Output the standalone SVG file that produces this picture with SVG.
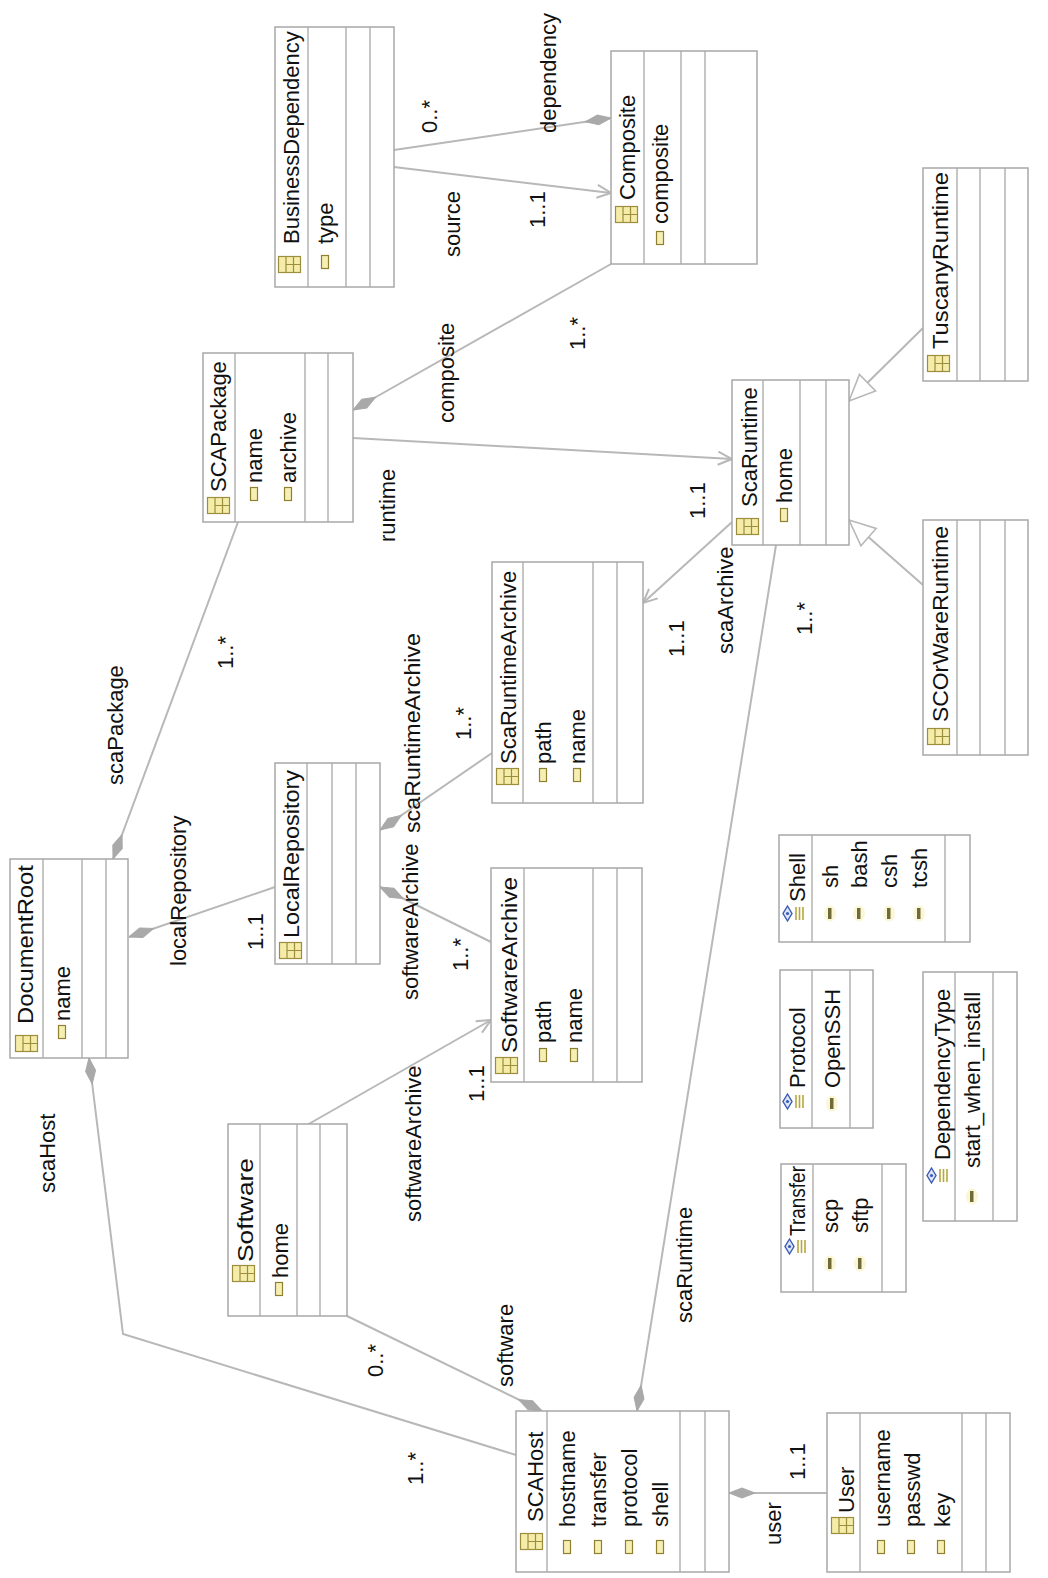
<svg xmlns="http://www.w3.org/2000/svg" xmlns:xlink="http://www.w3.org/1999/xlink" width="1048" height="1578" viewBox="0 0 1048 1578">
<style>
.box{fill:#fff;stroke:#a8a8a8;stroke-width:1.5}
.dv{fill:none;stroke:#a8a8a8;stroke-width:1.3}
.t{font-family:"Liberation Sans",Arial,sans-serif;font-size:22px;fill:#111}
.c{fill:none;stroke:#b8b8b8;stroke-width:2}
</style>
<defs>
<g id="ci"><rect x="0.5" y="0.5" width="22" height="16" fill="#f4eca8" stroke="#9c8e3c" stroke-width="1.2"/><path d="M8,0.5V16.5M15.5,0.5V16.5M8,8.5H22.5" stroke="#9c8e3c" stroke-width="1.2" fill="none"/></g>
<g id="ai"><rect x="0.5" y="0.5" width="7" height="13" fill="#f6efb4" stroke="#8f8030" stroke-width="1.2"/></g>
<g id="ei"><path d="M4.5,1L9,8.5L4.5,16L0,8.5Z" fill="#dde4f6" stroke="#3a5bb5" stroke-width="1.4"/><circle cx="4.5" cy="8.5" r="1.6" fill="#3a5bb5"/><path d="M13,2V15M16.5,2V15M20,2V15" stroke="#b8a83c" stroke-width="1.6"/></g>
<g id="li"><ellipse cx="2" cy="6.5" rx="6" ry="8" fill="#faf6d6"/><rect x="0" y="1" width="3.5" height="11" fill="#6e6a3a"/></g>
<marker id="dia" markerUnits="userSpaceOnUse" markerWidth="30" markerHeight="14" refX="0" refY="7" orient="auto" viewBox="0 0 30 14"><path d="M0,7L13,2L26,7L13,12Z" fill="#a9a9a9" stroke="#a9a9a9" stroke-width="1"/></marker>
<marker id="arr" markerUnits="userSpaceOnUse" markerWidth="20" markerHeight="16" refX="17" refY="8" orient="auto" viewBox="0 0 20 16"><path d="M3,1.5L17,8L3,14.5" fill="none" stroke="#b8b8b8" stroke-width="2"/></marker>
<marker id="tri" markerUnits="userSpaceOnUse" markerWidth="30" markerHeight="28" refX="28" refY="14" orient="auto" viewBox="0 0 30 28"><path d="M28,14L2,2.5L2,25.5Z" fill="#fff" stroke="#b8b8b8" stroke-width="1.6"/></marker>
</defs>
<rect width="1048" height="1578" fill="#fff"/>

<g id="connectors">
<line class="c" x1="611" y1="118" x2="394" y2="150" marker-start="url(#dia)"/>
<line class="c" x1="394" y1="167" x2="611" y2="193" marker-end="url(#arr)"/>
<line class="c" x1="353" y1="410" x2="611" y2="264" marker-start="url(#dia)"/>
<line class="c" x1="353" y1="438" x2="732" y2="459" marker-end="url(#arr)"/>
<line class="c" x1="732" y1="522" x2="643" y2="603" marker-end="url(#arr)"/>
<line class="c" x1="113" y1="859" x2="238" y2="522" marker-start="url(#dia)"/>
<line class="c" x1="129" y1="937" x2="275" y2="887" marker-start="url(#dia)"/>
<line class="c" x1="380" y1="830" x2="492" y2="753" marker-start="url(#dia)"/>
<line class="c" x1="380" y1="887" x2="491" y2="942" marker-start="url(#dia)"/>
<line class="c" x1="307" y1="1125" x2="491" y2="1020" marker-end="url(#arr)"/>
<line class="c" x1="542" y1="1411" x2="347" y2="1316" marker-start="url(#dia)"/>
<polyline class="c" points="89,1058 123,1334 516,1455" marker-start="url(#dia)"/>
<line class="c" x1="637" y1="1411" x2="776" y2="545" marker-start="url(#dia)"/>
<line class="c" x1="729" y1="1493" x2="827" y2="1493" marker-start="url(#dia)"/>
<line class="c" x1="923" y1="328" x2="849" y2="401" marker-end="url(#tri)"/>
<line class="c" x1="923" y1="585" x2="849" y2="520" marker-end="url(#tri)"/>
<text class="t" transform="translate(437,133) rotate(-90)">0..*</text>
<text class="t" transform="translate(556,133) rotate(-90)">dependency</text>
<text class="t" transform="translate(460,257) rotate(-90)">source</text>
<text class="t" transform="translate(545,228) rotate(-90)">1..1</text>
<text class="t" transform="translate(454,423) rotate(-90)">composite</text>
<text class="t" transform="translate(585,350) rotate(-90)">1..*</text>
<text class="t" transform="translate(395,542) rotate(-90)">runtime</text>
<text class="t" transform="translate(705,519) rotate(-90)">1..1</text>
<text class="t" transform="translate(733,654) rotate(-90)">scaArchive</text>
<text class="t" transform="translate(684,657) rotate(-90)">1..1</text>
<text class="t" transform="translate(812,635) rotate(-90)">1..*</text>
<text class="t" transform="translate(123,785) rotate(-90)">scaPackage</text>
<text class="t" transform="translate(233,669) rotate(-90)">1..*</text>
<text class="t" transform="translate(186,966) rotate(-90)">localRepository</text>
<text class="t" transform="translate(263,950) rotate(-90)">1..1</text>
<text class="t" transform="translate(420,833) rotate(-90)" textLength="200" lengthAdjust="spacingAndGlyphs">scaRuntimeArchive</text>
<text class="t" transform="translate(471,740) rotate(-90)">1..*</text>
<text class="t" transform="translate(418,1000) rotate(-90)">softwareArchive</text>
<text class="t" transform="translate(468,971) rotate(-90)">1..*</text>
<text class="t" transform="translate(421,1222) rotate(-90)">softwareArchive</text>
<text class="t" transform="translate(484,1102) rotate(-90)">1..1</text>
<text class="t" transform="translate(513,1387) rotate(-90)">software</text>
<text class="t" transform="translate(383,1377) rotate(-90)">0..*</text>
<text class="t" transform="translate(55,1193) rotate(-90)">scaHost</text>
<text class="t" transform="translate(423,1485) rotate(-90)">1..*</text>
<text class="t" transform="translate(692,1323) rotate(-90)">scaRuntime</text>
<text class="t" transform="translate(781,1545) rotate(-90)">user</text>
<text class="t" transform="translate(805,1480) rotate(-90)">1..1</text>
</g>

<g id="DocumentRoot">
<rect class="box" x="10" y="859" width="118" height="199"/>
<path class="dv" d="M43,859V1058M82,859V1058M106,859V1058"/>
<use href="#ci" x="15" y="1035"/>
<text class="t" transform="translate(33,1024) rotate(-90)" textLength="159" lengthAdjust="spacingAndGlyphs">DocumentRoot</text>
<use href="#ai" x="58" y="1025"/>
<text class="t" transform="translate(70,1021) rotate(-90)">name</text>
</g>

<g id="BusinessDependency">
<rect class="box" x="275" y="27" width="119" height="260"/>
<path class="dv" d="M308,27V287M346,27V287M370,27V287"/>
<use href="#ci" x="278" y="256"/>
<text class="t" transform="translate(299,244) rotate(-90)">BusinessDependency</text>
<use href="#ai" x="321" y="255"/>
<text class="t" transform="translate(333,244) rotate(-90)">type</text>
</g>

<g id="Composite">
<rect class="box" x="611" y="51" width="146" height="213"/>
<path class="dv" d="M644,51V264M681,51V264M705,51V264"/>
<use href="#ci" x="615" y="206"/>
<text class="t" transform="translate(635,200) rotate(-90)">Composite</text>
<use href="#ai" x="656" y="231"/>
<text class="t" transform="translate(668,224) rotate(-90)">composite</text>
</g>

<g id="SCAPackage">
<rect class="box" x="203" y="353" width="150" height="169"/>
<path class="dv" d="M235,353V522M305,353V522M328,353V522"/>
<use href="#ci" x="207" y="497"/>
<text class="t" transform="translate(226,492) rotate(-90)">SCAPackage</text>
<use href="#ai" x="250" y="487"/>
<text class="t" transform="translate(262,483) rotate(-90)">name</text>
<use href="#ai" x="284" y="487"/>
<text class="t" transform="translate(296,483) rotate(-90)">archive</text>
</g>

<g id="TuscanyRuntime">
<rect class="box" x="923" y="168" width="105" height="213"/>
<path class="dv" d="M957,168V381M980,168V381M1005,168V381"/>
<use href="#ci" x="927" y="355"/>
<text class="t" transform="translate(948,349) rotate(-90)" textLength="177" lengthAdjust="spacingAndGlyphs">TuscanyRuntime</text>
</g>

<g id="ScaRuntime">
<rect class="box" x="732" y="380" width="117" height="165"/>
<path class="dv" d="M763,380V545M800,380V545M826,380V545"/>
<use href="#ci" x="736" y="518"/>
<text class="t" transform="translate(757,507) rotate(-90)">ScaRuntime</text>
<use href="#ai" x="780" y="508"/>
<text class="t" transform="translate(792,503) rotate(-90)">home</text>
</g>

<g id="SCOrWareRuntime">
<rect class="box" x="923" y="520" width="105" height="235"/>
<path class="dv" d="M957,520V755M980,520V755M1005,520V755"/>
<use href="#ci" x="927" y="728"/>
<text class="t" transform="translate(948,722) rotate(-90)" textLength="196" lengthAdjust="spacingAndGlyphs">SCOrWareRuntime</text>
</g>

<g id="ScaRuntimeArchive">
<rect class="box" x="492" y="562" width="151" height="241"/>
<path class="dv" d="M523,562V803M593,562V803M617,562V803"/>
<use href="#ci" x="496" y="768"/>
<text class="t" transform="translate(516,764) rotate(-90)">ScaRuntimeArchive</text>
<use href="#ai" x="539" y="768"/>
<text class="t" transform="translate(551,764) rotate(-90)">path</text>
<use href="#ai" x="573" y="768"/>
<text class="t" transform="translate(585,764) rotate(-90)">name</text>
</g>

<g id="LocalRepository">
<rect class="box" x="275" y="763" width="105" height="201"/>
<path class="dv" d="M307,763V964M332,763V964M356,763V964"/>
<use href="#ci" x="279" y="942"/>
<text class="t" transform="translate(299,938) rotate(-90)" textLength="168" lengthAdjust="spacingAndGlyphs">LocalRepository</text>
</g>

<g id="SoftwareArchive">
<rect class="box" x="491" y="868" width="151" height="214"/>
<path class="dv" d="M524,868V1082M593,868V1082M617,868V1082"/>
<use href="#ci" x="495" y="1057"/>
<text class="t" transform="translate(517,1053) rotate(-90)" textLength="176" lengthAdjust="spacingAndGlyphs">SoftwareArchive</text>
<use href="#ai" x="539" y="1048"/>
<text class="t" transform="translate(551,1043) rotate(-90)">path</text>
<use href="#ai" x="570" y="1048"/>
<text class="t" transform="translate(582,1043) rotate(-90)">name</text>
</g>

<g id="Software">
<rect class="box" x="228" y="1124" width="119" height="192"/>
<path class="dv" d="M260,1124V1316M297,1124V1316M320,1124V1316"/>
<use href="#ci" x="232" y="1265"/>
<text class="t" transform="translate(253,1262) rotate(-90)" textLength="104" lengthAdjust="spacingAndGlyphs">Software</text>
<use href="#ai" x="275" y="1282"/>
<text class="t" transform="translate(288,1278) rotate(-90)">home</text>
</g>

<g id="SCAHost">
<rect class="box" x="516" y="1411" width="213" height="161"/>
<path class="dv" d="M547,1411V1572M680,1411V1572M705,1411V1572"/>
<use href="#ci" x="520" y="1533"/>
<text class="t" transform="translate(543,1522) rotate(-90)">SCAHost</text>
<use href="#ai" x="563" y="1540"/>
<text class="t" transform="translate(575,1527) rotate(-90)">hostname</text>
<use href="#ai" x="594" y="1540"/>
<text class="t" transform="translate(606,1527) rotate(-90)">transfer</text>
<use href="#ai" x="625" y="1540"/>
<text class="t" transform="translate(637,1527) rotate(-90)">protocol</text>
<use href="#ai" x="656" y="1540"/>
<text class="t" transform="translate(668,1527) rotate(-90)">shell</text>
</g>

<g id="User">
<rect class="box" x="827" y="1413" width="183" height="159"/>
<path class="dv" d="M860,1413V1572M962,1413V1572M986,1413V1572"/>
<use href="#ci" x="831" y="1517"/>
<text class="t" transform="translate(854,1513) rotate(-90)">User</text>
<use href="#ai" x="877" y="1540"/>
<text class="t" transform="translate(890,1527) rotate(-90)">username</text>
<use href="#ai" x="907" y="1540"/>
<text class="t" transform="translate(920,1527) rotate(-90)">passwd</text>
<use href="#ai" x="937" y="1540"/>
<text class="t" transform="translate(950,1527) rotate(-90)">key</text>
</g>

<g id="Shell">
<rect class="box" x="779" y="835" width="191" height="107"/>
<path class="dv" d="M812,835V942M945,835V942"/>
<use href="#ei" x="783" y="905"/>
<text class="t" transform="translate(805,902) rotate(-90)">Shell</text>
<use href="#li" x="828" y="907"/>
<text class="t" transform="translate(838,888) rotate(-90)">sh</text>
<use href="#li" x="857" y="907"/>
<text class="t" transform="translate(867,888) rotate(-90)">bash</text>
<use href="#li" x="887" y="907"/>
<text class="t" transform="translate(897,888) rotate(-90)">csh</text>
<use href="#li" x="917" y="907"/>
<text class="t" transform="translate(927,888) rotate(-90)">tcsh</text>
</g>

<g id="Protocol">
<rect class="box" x="780" y="970" width="93" height="158"/>
<path class="dv" d="M812,970V1128M850,970V1128"/>
<use href="#ei" x="783" y="1093"/>
<text class="t" transform="translate(805,1088) rotate(-90)">Protocol</text>
<use href="#li" x="830" y="1097"/>
<text class="t" transform="translate(840,1088) rotate(-90)">OpenSSH</text>
</g>

<g id="DependencyType">
<rect class="box" x="923" y="972" width="94" height="249"/>
<path class="dv" d="M955,972V1221M993,972V1221"/>
<use href="#ei" x="927" y="1167"/>
<text class="t" transform="translate(950,1160) rotate(-90)">DependencyType</text>
<use href="#li" x="970" y="1190"/>
<text class="t" transform="translate(980,1168) rotate(-90)">start_when_install</text>
</g>

<g id="Transfer">
<rect class="box" x="781" y="1164" width="125" height="128"/>
<path class="dv" d="M813,1164V1292M882,1164V1292"/>
<use href="#ei" x="785" y="1238"/>
<text class="t" transform="translate(805,1236) rotate(-90)" textLength="70" lengthAdjust="spacingAndGlyphs">Transfer</text>
<use href="#li" x="828" y="1257"/>
<text class="t" transform="translate(838,1233) rotate(-90)">scp</text>
<use href="#li" x="858" y="1257"/>
<text class="t" transform="translate(868,1233) rotate(-90)">sftp</text>
</g>
</svg>
